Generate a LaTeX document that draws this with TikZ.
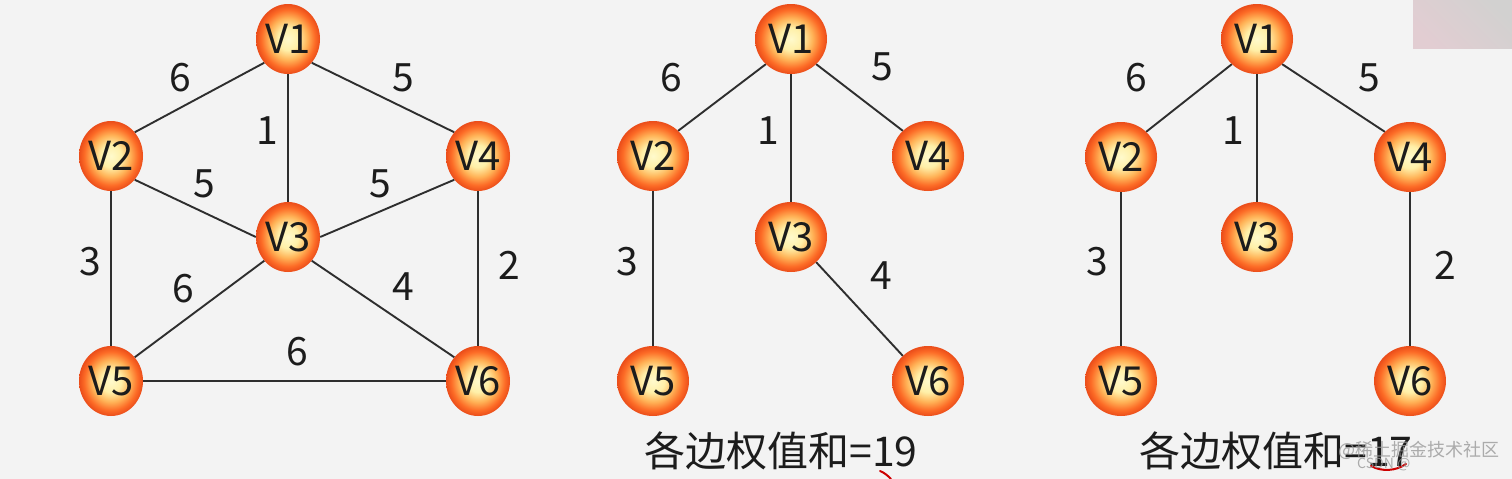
\documentclass[tikz,border=0pt]{standalone}
\usepackage{fontspec}
\setmainfont{Noto Sans CJK SC}
\usetikzlibrary{shapes.geometric}
\definecolor{bgc}{HTML}{F3F3F3}
\definecolor{inkc}{HTML}{1C1C1C}
\definecolor{edgec}{HTML}{2E2E2E}
\definecolor{cornera}{HTML}{D2D1D0}
\definecolor{cornerb}{HTML}{E2CDD2}
\pgfdeclareradialshading{ballorange}{\pgfpoint{0bp}{0bp}}{%
 rgb(0bp)=(1,0.98,0.80);
 rgb(8bp)=(1,0.94,0.66);
 rgb(15bp)=(1,0.70,0.34);
 rgb(21bp)=(0.99,0.42,0.15);
 rgb(25bp)=(0.92,0.30,0.10);
 rgb(50bp)=(0.92,0.30,0.10)}
\tikzset{
 vert/.style={ellipse,minimum width=72pt,minimum height=70pt,inner sep=0pt,shading=ballorange,text=inkc,font=\fontsize{40}{40}\selectfont},
 vertnarrow/.style={vert,minimum width=64pt},
 edgeline/.style={draw=edgec,line width=1.9pt},
 weight/.style={inner sep=0pt,text=inkc,font=\fontsize{39}{39}\selectfont},
 sumtext/.style={inner sep=0pt,text=inkc,font=\fontsize{41}{41}\selectfont},
 mark stroke/.style={draw=red!80!black,line width=2pt,line cap=round},
 wm/.style={inner sep=0pt,text=black!40,opacity=.8,anchor=west}
}
\begin{document}
\begin{tikzpicture}[x=1pt,y=-1pt]
\path[fill=bgc] (0,0) rectangle (1512,479);
\useasboundingbox (0,0) rectangle (1512,479);
% corner picture
\path[shading=axis,top color=cornera,bottom color=cornerb,shading angle=-45] (1413,0) rectangle (1512,48);
% graph 1
\node[vertnarrow] (a1) at (288,39) {V1};
\node[vertnarrow] (a2) at (111,156) {V2};
\node[vertnarrow] (a4) at (478,156) {V4};
\node[vertnarrow] (a3) at (288,237) {V3};
\node[vertnarrow] (a5) at (111,381) {V5};
\node[vertnarrow] (a6) at (478,381) {V6};
\draw[edgeline] (a1.225)--(a2.45);
\draw[edgeline] (a1.south)--(a3.north);
\draw[edgeline] (a1.-45)--(a4.135);
\draw[edgeline] (a2.-45)--(a3.west);
\draw[edgeline] (a4.225)--(a3.east);
\draw[edgeline] (a2.south)--(a5.north);
\draw[edgeline] (a4.south)--(a6.north);
\draw[edgeline] (a3.225)--(a5.45);
\draw[edgeline] (a3.-45)--(a6.135);
\draw[edgeline] (a5.east)--(a6.west);
\node[weight] at (180,78) {6};
\node[weight] at (403,78) {5};
\node[weight] at (267,131) {1};
\node[weight] at (204,184) {5};
\node[weight] at (380,184) {5};
\node[weight] at (90,262) {3};
\node[weight] at (509,265) {2};
\node[weight] at (183,289) {6};
\node[weight] at (403,287) {4};
\node[weight] at (297,352) {6};
% graph 2
\node[vert] (b1) at (791,39) {V1};
\node[vert] (b2) at (653,156) {V2};
\node[vert] (b4) at (928,156) {V4};
\node[vert] (b3) at (791,237) {V3};
\node[vert] (b5) at (653,381) {V5};
\node[vert] (b6) at (928,381) {V6};
\draw[edgeline] (b1.225)--(b2.45);
\draw[edgeline] (b1.south)--(b3.north);
\draw[edgeline] (b1.-45)--(b4.135);
\draw[edgeline] (b2.south)--(b5.north);
\draw[edgeline] (b3.-45)--(b6.135);
\node[weight] at (671,78) {6};
\node[weight] at (882,67) {5};
\node[weight] at (768,131) {1};
\node[weight] at (627,262) {3};
\node[weight] at (881,276) {4};
\node[sumtext] (s2) at (781,451) {各边权值和=19};
% graph 3
\node[vert] (c1) at (1257,39) {V1};
\node[vert] (c2) at (1121,157) {V2};
\node[vert] (c4) at (1410,157) {V4};
\node[vert] (c3) at (1257,237) {V3};
\node[vert] (c5) at (1121,381) {V5};
\node[vert] (c6) at (1410,381) {V6};
\draw[edgeline] (c1.225)--(c2.45);
\draw[edgeline] (c1.south)--(c3.north);
\draw[edgeline] (c1.-45)--(c4.135);
\draw[edgeline] (c2.south)--(c5.north);
\draw[edgeline] (c4.south)--(c6.north);
\node[weight] at (1136,78) {6};
\node[weight] at (1369,78) {5};
\node[weight] at (1233,131) {1};
\node[weight] at (1097,262) {3};
\node[weight] at (1445,265) {2};
\node[sumtext] (s3) at (1276,451) {各边权值和=17};
% red pen marks
\draw[mark stroke] (880,471) .. controls (885,473) and (888,476) .. (891,479);
\draw[mark stroke] (1371,466) .. controls (1382,472) and (1396,471) .. (1406,464);
% watermark
\node[wm,font=\fontsize{18}{18}\selectfont] (w1) at (1338,450) {@稀土掘金技术社区};
\node[wm,font=\fontsize{14}{14}\selectfont] (w2) at (1357,464) {CSDN @};
\end{tikzpicture}
\end{document}
